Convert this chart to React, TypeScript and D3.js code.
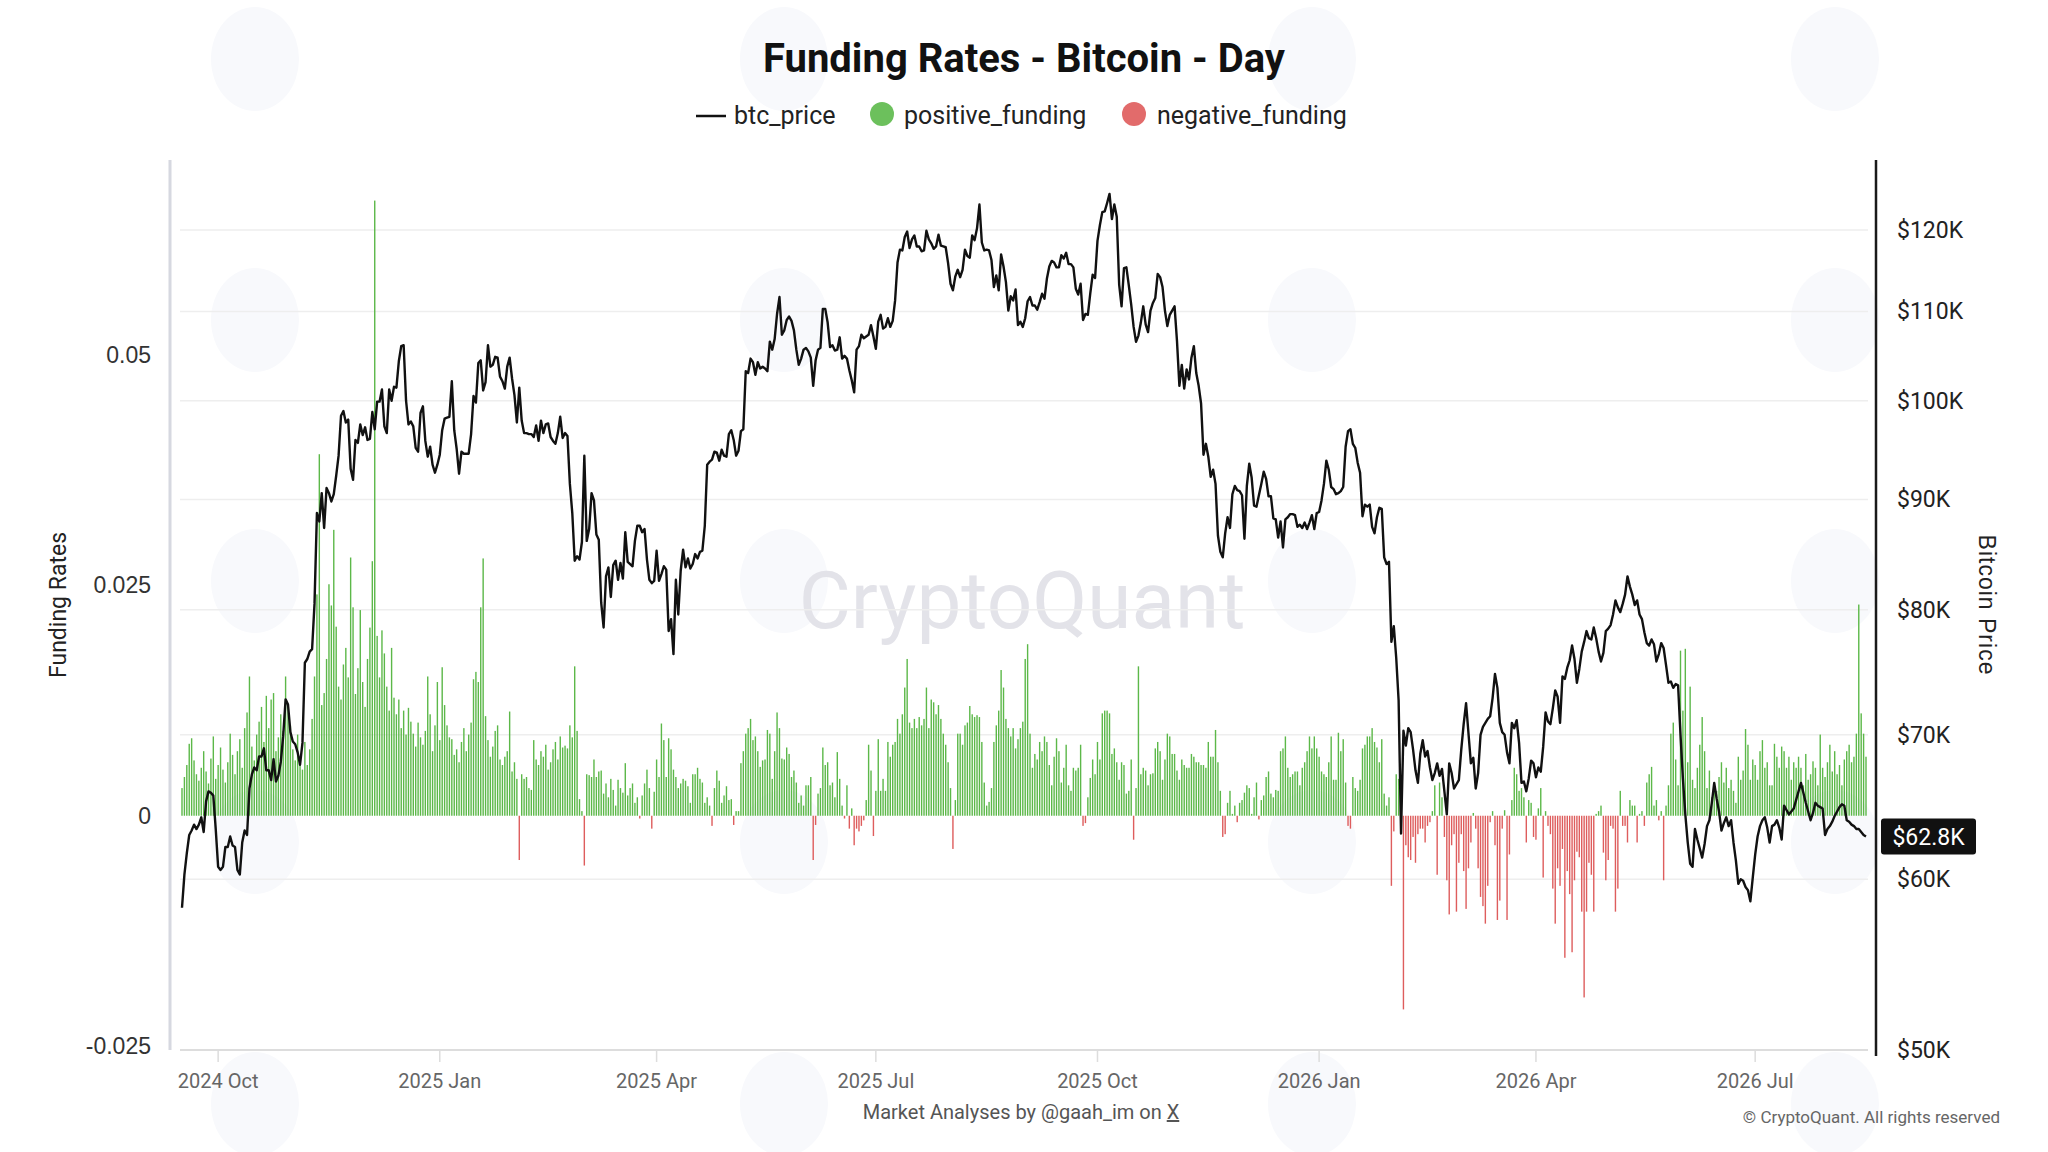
import React, { useEffect, useRef } from "react";
import * as d3 from "d3";

// daily series, first day 2024-09-16 (UTC)
const startDay = Date.UTC(2024, 8, 16);
const DAY = 86400000;

// btc_price, daily close in $K
const btcPrice2024 = [
  58.2, 60.3, 61.7, 62.9, 63.2, 63.6, 63.3, 63.6, 64.1, 63.1, 65.2, 65.9, 65.8, 65.6, 63.3,
  60.8, 60.6, 60.8, 62.1, 62.1, 62.8, 62.2, 62.1, 60.6, 60.3, 62.4, 63.2, 62.9, 66.1, 67.1, 67.6,
  67.4, 68.4, 68.4, 69.0, 67.4, 67.4, 66.7, 68.2, 66.6, 67.0, 68.0, 69.9, 72.7, 72.3, 70.2,
  69.5, 69.3, 68.7, 67.8, 69.4, 75.6, 75.9, 76.5, 76.7, 80.5, 88.7, 87.9, 90.6, 87.3, 91.1,
  90.6, 89.8, 90.5, 92.3, 94.3, 98.4, 98.9, 97.7, 98.0, 93.0, 91.9, 95.9, 95.6, 97.5, 96.4,
  97.2, 95.9, 96.0, 98.8, 97.0, 99.9, 99.9, 101.2, 97.3, 96.6, 101.2, 100.0, 101.5, 101.4, 104.3,
  106.0, 106.1, 100.0, 97.5, 97.8, 97.3, 95.1, 94.7, 98.7, 99.4, 95.8, 94.2, 95.2, 93.4, 92.6, 93.4,
];
const btcPrice2025 = [
  94.4, 96.9, 98.1, 98.2, 98.3, 102.1, 96.9, 95.0, 92.5, 94.7, 94.5, 94.5, 94.5, 96.5, 100.5, 99.8,
  104.1, 104.4, 101.1, 102.0, 106.1, 103.7, 103.9, 104.8, 104.7, 102.6, 102.1, 101.3, 103.7, 104.7, 102.4,
  100.6, 97.7, 101.4, 97.9, 96.6, 96.6, 96.5, 96.5, 96.2, 97.4, 95.8, 97.9, 96.6, 97.5, 97.6, 96.2,
  95.8, 95.5, 96.6, 98.3, 96.1, 96.6, 96.3, 91.5, 88.7, 84.3, 84.7, 84.4,
  86.0, 94.3, 86.1, 87.2, 90.6, 89.9, 86.7, 86.2, 80.6, 78.5, 82.9, 83.7, 81.1, 83.9, 84.3, 82.6,
  84.1, 82.7, 86.9, 84.2, 84.0, 83.8, 86.1, 87.5, 87.5, 86.9, 87.2, 84.4, 82.6, 82.3, 82.5,
  85.2, 82.5, 83.1, 83.8, 83.5, 78.2, 79.2, 76.3, 82.6, 79.6, 83.4, 85.3, 83.7, 84.5, 83.6,
  84.0, 84.9, 84.5, 85.1, 85.2, 87.5, 93.4, 93.7, 93.9, 94.7, 94.6, 93.8, 94.9, 94.3, 94.2,
  96.5, 96.9, 95.9, 94.3, 94.8, 96.8, 97.0, 103.2, 103.0, 104.6, 104.2, 102.8, 104.2, 103.5, 103.7,
  103.5, 103.2, 106.5, 105.6, 106.8, 109.7, 111.7, 107.3, 107.8, 109.0, 109.4, 108.9, 107.8, 105.6, 103.9, 104.6,
  105.6, 105.8, 105.4, 104.7, 101.6, 104.4, 105.6, 105.8, 110.3, 110.3, 108.7, 105.9, 106.1, 105.5, 105.6,
  107.0, 104.6, 104.9, 104.6, 103.3, 102.2, 100.9, 105.6, 106.0, 107.3, 106.9, 107.1, 107.3, 108.4, 107.1,
  105.7, 108.8, 109.6, 108.0, 108.2, 109.2, 108.2, 108.9, 111.3, 115.9, 117.5, 117.4, 119.1, 119.8, 117.7,
  118.8, 119.3, 117.9, 117.9, 117.3, 117.4, 119.9, 118.8, 118.3, 117.6, 117.9, 119.4, 118.0, 117.9, 117.8, 115.8,
  113.3, 112.5, 114.2, 115.0, 114.1, 115.0, 117.5, 116.7, 116.5, 119.3, 118.7, 120.2, 123.3, 118.4, 117.4,
  117.5, 117.4, 116.2, 112.9, 114.3, 112.5, 116.9, 115.4, 113.5, 110.1, 111.8, 111.3, 112.6, 108.4, 108.8, 108.2,
  109.2, 111.2, 111.7, 110.7, 110.7, 110.2, 111.1, 112.1, 111.5, 113.9, 115.4, 116.1, 115.9, 115.3, 115.3,
  116.8, 116.4, 117.1, 115.7, 115.7, 115.3, 112.7, 112.0, 113.3, 109.0, 109.7, 109.6, 112.1, 114.4, 114.0,
  118.6, 120.6, 122.3, 122.4, 123.5, 124.7, 121.4, 123.3, 121.7, 113.2, 110.6, 115.2, 115.3, 113.1, 110.8,
  108.2, 106.5, 107.2, 108.7, 110.6, 108.5, 107.6, 110.1, 111.0, 111.6, 114.5, 114.1, 112.9, 110.1, 108.3, 109.6,
  110.1, 110.6, 106.6, 101.6, 103.9, 101.3, 103.4, 102.3, 104.7, 106.0, 103.0, 101.6, 99.7, 94.4, 95.5,
  94.2, 92.2, 92.9, 91.5, 86.6, 85.1, 84.6, 86.8, 88.3, 87.3, 90.5, 91.3, 90.9, 90.8, 90.4,
  86.3, 91.3, 93.5, 92.1, 89.4, 89.3, 90.4, 91.5, 92.7, 92.0, 90.3, 90.3, 88.2, 88.1, 86.4, 87.9,
  85.5, 88.1, 88.3, 88.6, 88.6, 88.5, 87.4, 87.6, 87.3, 87.8, 87.2, 87.8, 88.5, 87.2, 88.7,
];
const btcPrice2026 = [
  88.8, 89.9, 91.5, 93.8, 92.9, 91.2, 91.0, 90.5, 90.6, 90.8, 91.2, 95.2, 96.8, 97.0, 95.5, 95.1,
  93.6, 92.6, 88.4, 89.5, 89.3, 89.5, 87.4, 86.8, 88.3, 89.2, 89.1, 84.6, 84.0, 84.2, 77.3,
  78.6, 76.0, 72.6, 63.0, 70.3, 69.2, 70.5, 70.2, 68.9, 67.4, 66.5, 68.6, 69.6, 68.4, 68.8,
  67.6, 66.7, 67.2, 67.9, 67.0, 67.5, 65.9, 64.3, 67.9, 67.2, 66.1, 66.4,
  66.7, 68.9, 70.8, 72.4, 70.1, 67.9, 68.3, 66.1, 67.2, 70.0, 70.6, 70.9, 71.2, 71.4, 72.8, 74.7,
  73.6, 70.9, 70.2, 70.0, 68.7, 67.9, 70.9, 70.5, 71.1, 69.4, 66.5, 66.6, 65.9, 66.8, 68.1,
  67.9, 66.9, 67.6, 67.3, 69.1, 71.7, 71.0, 70.8, 72.0, 73.4, 72.9, 70.9, 74.5, 74.3, 75.2,
  75.8, 77.0, 75.9, 74.0, 75.1, 76.5, 77.3, 78.2, 77.6, 77.5, 78.5, 77.6, 76.5, 75.7, 76.4,
  78.2, 78.4, 78.7, 79.6, 80.8, 80.2, 79.8, 80.5, 81.3, 82.9, 82.0, 81.3, 80.4, 80.8, 79.6, 79.2,
  78.1, 77.2, 77.0, 77.5, 77.1, 75.7, 76.3, 77.2, 76.8, 75.4, 74.0, 74.1, 73.6, 73.9, 73.8,
  70.0, 66.8, 64.3, 62.4, 61.0, 60.8, 63.3, 62.6, 62.0, 61.4, 62.3, 63.5, 63.9, 65.1, 66.5,
  65.4, 64.5, 63.2, 63.7, 64.1, 63.5, 63.9, 62.4, 61.2, 59.7, 60.0, 59.9, 59.5, 59.3, 58.6, 60.1,
  61.6, 62.8, 63.5, 63.9, 64.1, 63.4, 62.4, 63.5, 63.6, 63.9, 63.4, 62.6, 64.9, 64.6, 64.3,
  64.5, 64.7, 65.3, 65.9, 66.5, 65.8, 65.1, 64.5, 63.9, 64.4, 65.1, 64.9, 64.8, 64.7, 62.9, 63.3,
  63.5, 63.8, 64.2, 64.5, 64.8, 65.0, 64.9, 63.9, 63.8, 63.6, 63.5, 63.3, 63.3, 63.1, 62.9, 62.8,
];

// funding rate, daily, in units of 0.0001
const funding2024 = [
  30, 42, 55, 78, 84, 60, 45, 38, 52, 70, 48, 35, 62, 86, 40, 55, 74, 50, 36, 58,
  89, 66, 45, 70, 83, 52, 95, 112, 151, 75, 60, 88, 102, 118, 80, 130, 95, 126, 133, 70,
  85, 110, 92, 151, 120, 98, 72, 60, 88, 64, 50, 80, 55, 72, 105, 151, 240, 392, 120, 133,
  170, 251, 228, 310, 205, 140, 126, 164, 182, 150, 280, 226, 132, 160, 223, 145, 118, 170, 204, 276,
  667, 195, 150, 201, 176, 140, 114, 182, 128, 110, 126, 95, 114, 88, 117, 102, 89, 75, 101, 85,
  77, 92, 151, 110, 70, 98, 145,
];
const funding2025 = [
  82, 161, 120,
  98, 85, 83, 66, 72, 58, 80, 95, 70, 88, 101, 148, 156, 145, 226, 279, 108, 82, 64, 75,
  92, 98, 61, 55, 64, 70, 113, 48, 58, 40, -48, 45, 40, 42, 30, 28, 82, 61, 55, 70,
  64, 77, 50, 58, 72, 80, 61, 86, 74, 76, 73, 98, 85, 162, 92, 18, 5, -54, 45, 44,
  42, 61, 42, 48, 49, 24, 35, 20, 40, 28, 11, 39, 30, 25, 57, 22, 30, 35, 14, 20,
  -3, 22, 35, 50, 30, -14, 26, 61, 42, 100, 82, 42, 84, 72, 50, 42, 30, 35, 40, 38,
  32, 14, 45, 45, 52, 40, 36, 14, 20, 11, -11, 30, 49, 38, 14, 22, 32, 17, 18, -10,
  5, 5, 57, 70, 89, 95, 105, 82, 86, 70, 53, 60, 61, 93, 89, 40, 70, 112, 95, 62,
  61, 74, 67, 42, 49, 36, 14, 22, 11, 33, 33, 42, -48, -10, 24, 30, 74, 55, 58, 33,
  36, 20, 69, 40, 11, -3, 33, -14, 8, -32, -14, -17, -11, -5, 17, 77, 49, -22, 27, 83,
  27, 40, 27, 80, 64, 77, 80, 105, 89, 110, 139, 170, 101, 95, 105, 95, 107, 98, 105, 139,
  95, 126, 123, 110, 120, 105, 89, 77, 58, 30, -36, 17, 89, 89, 77, 98, 101, 119, 110, 107,
  109, 107, 80, 36, 11, 15, 30, 80, 98, 114, 158, 139, 105, 95, 86, 95, 73, 83, 95, 102,
  170, 186, 89, 52, 67, 61, 80, 70, 86, 80, 55, 33, 64, 84, 70, 36, 52, 77, 33, 27,
  52, 49, 52, 77, -11, -8, 20, 41, 61, 45, 80, 61, 111, 114, 114, 111, 67, 73, 58, 39,
  58, 55, 24, 27, 61, -26, 30, 162, 45, 52, 49, 33, 45, 46, 73, 80, 70, 39, 61, 89,
  86, 67, 67, 49, 39, 61, 55, 52, 52, 67, 64, 58, 58, 55, 55, 52, 80, 64, 64, 93,
  58, 27, -23, -20, 14, 27, 2, 11, -7, 14, 17, 25, 33, 30, 2, 20, 36, -4, 17, 22,
  42, 48, 24, 20, 28, 27, 70, 73, 86, 52, 42, 45, 48, 48, 33, 52, 58, 70, 86, 73,
  86, 73,
];
const funding2026 = [
  64, 48, 45, 42, 58, 86, 39, 39,
  90, 70, 83, 36, -11, -14, 42, 30, 27, 39, 73, 77, 86, 86, 95, 80, 74, 58, 83, 24,
  11, 20, -76, -17, 45, 40, 20, -210, -32, -45, -48, -23, -51, -20, -14, -14, -29, -11, -7, 5,
  33, -64, 36, 20, -23, -70, -107, -32, -20, -104, -51, -20, -60, -101, -57, -29, 3, -14, -57, -88,
  -98, -117, -76, -7, 5, -32, -113, -92, -14, 6, -113, -42, 17, 52, 45, 27, 30, 20, -29, 17,
  14, -23, -26, 8, 30, -67, 5, -11, -20, -79, -117, -57, -76, -36, -154, -60, -85, -148, -70, -39,
  -45, -104, -197, -104, -51, -64, -104, 2, 5, 11, -40, -70, -48, -11, -14, -104, -79, 27, -11, -11,
  -29, 17, 11, 11, -29, 2, 5, -11, 36, 45, 53, 11, 17, -5, 5, -70, 11, 33, 89, 101,
  61, 33, 179, 114, 181, 58, 140, 39, 30, 52, 77, 107, 70, 30, 49, 20, 30, 27, 42, 58,
  36, 52, 30, 39, 27, 14, 64, 39, 49, 94, 77, 39, 61, 55, 39, 70, 82, 52, 58, 33,
  33, 78, 64, 52, 75, 70, 52, 64, 39, 58, 52, 64, 52, 33, 67, 39, 45, 59, 52, 33,
  88, 52, 42, 58, 77, 48, 70, 45, 55, 33, 61, 70, 77, 58, 64, 89, 229, 111, 89, 64,
];

const priceTicks = [50, 60, 70, 80, 90, 100, 110, 120];
const fundingTicks = [-0.025, 0, 0.025, 0.05];
const lastPriceLabel = "$62.8K";

const W = 2048;
const H = 1152;

export default function App() {
  const svgRef = useRef<SVGSVGElement>(null);

  useEffect(() => {
    if (!svgRef.current) return;
    const svg = d3.select(svgRef.current);
    svg.selectAll("*").remove();

    const prices = [...btcPrice2024, ...btcPrice2025, ...btcPrice2026];
    const funding = [...funding2024, ...funding2025, ...funding2026];
    const n = Math.min(prices.length, funding.length);
    const data = d3.range(n).map((i) => ({
      date: new Date(startDay + i * DAY),
      price: prices[i],
      rate: funding[i] / 10000,
    }));

    const plot = { left: 180, right: 1868, top: 160, bottom: 1050 };

    const x = d3
      .scaleUtc()
      .domain([data[0].date, data[n - 1].date])
      .range([182, 1866]);
    const yRate = d3.scaleLinear().domain([-0.0254, 0.0711]).range([plot.bottom, plot.top]);
    const yPrice = d3.scaleLog().domain([50, 129.3]).range([plot.bottom, plot.top]);

    svg.append("rect").attr("width", W).attr("height", H).attr("fill", "#ffffff");

    // faint tiled logo watermarks
    const wmX = [255, 784, 1312, 1835];
    const wmY = [59, 320, 581, 842, 1104];
    wmX.forEach((cx) =>
      wmY.forEach((cy) => {
        svg
          .append("ellipse")
          .attr("cx", cx)
          .attr("cy", cy)
          .attr("rx", 44)
          .attr("ry", 52)
          .attr("fill", "#f8f9fc");
      }),
    );

    svg
      .append("text")
      .attr("x", 1022)
      .attr("y", 628)
      .attr("text-anchor", "middle")
      .style("font-family", "Roboto, sans-serif")
      .style("font-size", "80px")
      .style("font-weight", 400)
      .style("fill", "#e3e3e9")
      .text("CryptoQuant");

    // price grid
    svg
      .append("g")
      .selectAll("line")
      .data(priceTicks.slice(1))
      .enter()
      .append("line")
      .attr("x1", plot.left)
      .attr("x2", plot.right)
      .attr("y1", (d) => yPrice(d))
      .attr("y2", (d) => yPrice(d))
      .attr("stroke", "#eeeeee")
      .attr("stroke-width", 1.5);

    // funding bars
    const zero = yRate(0);
    svg
      .append("g")
      .selectAll("rect")
      .data(data)
      .enter()
      .append("rect")
      .attr("x", (d) => x(d.date) - 0.7)
      .attr("width", 1.4)
      .attr("y", (d) => Math.min(yRate(d.rate), zero))
      .attr("height", (d) => Math.abs(yRate(d.rate) - zero))
      .attr("fill", (d) => (d.rate >= 0 ? "#5cb849" : "#de5d5d"));

    // btc price line
    const line = d3
      .line<{ date: Date; price: number }>()
      .x((d) => x(d.date))
      .y((d) => yPrice(d.price));
    svg
      .append("path")
      .datum(data)
      .attr("fill", "none")
      .attr("stroke", "#111111")
      .attr("stroke-width", 2.4)
      .attr("stroke-linejoin", "round")
      .attr("d", line);

    // axes lines
    svg
      .append("line")
      .attr("x1", 170)
      .attr("x2", 170)
      .attr("y1", plot.top)
      .attr("y2", plot.bottom)
      .attr("stroke", "#d6d8e0")
      .attr("stroke-width", 3);
    svg
      .append("line")
      .attr("x1", 1876)
      .attr("x2", 1876)
      .attr("y1", plot.top)
      .attr("y2", plot.bottom + 6)
      .attr("stroke", "#1a1a1a")
      .attr("stroke-width", 2.5);
    svg
      .append("line")
      .attr("x1", plot.left)
      .attr("x2", plot.right)
      .attr("y1", plot.bottom)
      .attr("y2", plot.bottom)
      .attr("stroke", "#dddddd")
      .attr("stroke-width", 2);

    // x ticks
    const xTicks = x.ticks(d3.utcMonth.every(3) as d3.TimeInterval);
    const fmt = d3.utcFormat("%Y %b");
    const xg = svg.append("g");
    xTicks.forEach((t) => {
      xg.append("line")
        .attr("x1", x(t))
        .attr("x2", x(t))
        .attr("y1", plot.bottom)
        .attr("y2", plot.bottom + 12)
        .attr("stroke", "#dddddd")
        .attr("stroke-width", 1.5);
      xg.append("text")
        .attr("x", x(t))
        .attr("y", 1088)
        .attr("text-anchor", "middle")
        .style("font-family", "Roboto, sans-serif")
        .style("font-size", "20px")
        .style("fill", "#666666")
        .text(fmt(t));
    });

    // left ticks
    svg
      .append("g")
      .selectAll("text")
      .data(fundingTicks)
      .enter()
      .append("text")
      .attr("x", 151)
      .attr("y", (d) => yRate(d))
      .attr("dy", "0.35em")
      .attr("text-anchor", "end")
      .style("font-family", "'Liberation Sans', Arial, sans-serif")
      .style("font-size", "23px")
      .style("fill", "#333333")
      .text((d) => (d === 0 ? "0" : String(d)));

    // right ticks
    svg
      .append("g")
      .selectAll("text")
      .data(priceTicks)
      .enter()
      .append("text")
      .attr("x", 1897)
      .attr("y", (d) => yPrice(d))
      .attr("dy", "0.35em")
      .style("font-family", "Roboto, sans-serif")
      .style("font-size", "23px")
      .style("fill", "#222222")
      .text((d) => `$${d}K`);

    // last price marker
    const lastY = yPrice(data[n - 1].price);
    svg
      .append("rect")
      .attr("x", 1881)
      .attr("y", lastY - 18)
      .attr("width", 95)
      .attr("height", 36)
      .attr("rx", 3)
      .attr("fill", "#111111");
    svg
      .append("text")
      .attr("x", 1928.5)
      .attr("y", lastY)
      .attr("dy", "0.35em")
      .attr("text-anchor", "middle")
      .style("font-family", "Roboto, sans-serif")
      .style("font-size", "23px")
      .style("fill", "#ffffff")
      .text(lastPriceLabel);

    // axis titles
    svg
      .append("text")
      .attr("transform", `translate(66,${(plot.top + plot.bottom) / 2}) rotate(-90)`)
      .attr("text-anchor", "middle")
      .style("font-family", "Roboto, sans-serif")
      .style("font-size", "23px")
      .style("fill", "#222222")
      .text("Funding Rates");
    svg
      .append("text")
      .attr("transform", `translate(1979,${(plot.top + plot.bottom) / 2}) rotate(90)`)
      .attr("text-anchor", "middle")
      .style("font-family", "'Liberation Sans', Arial, sans-serif")
      .style("font-size", "23px")
      .style("letter-spacing", "1px")
      .style("fill", "#222222")
      .text("Bitcoin Price");

    // title
    svg
      .append("text")
      .attr("x", 1024)
      .attr("y", 72)
      .attr("text-anchor", "middle")
      .style("font-family", "Roboto, sans-serif")
      .style("font-size", "40px")
      .style("font-weight", 700)
      .style("fill", "#111111")
      .text("Funding Rates - Bitcoin - Day");

    // legend
    const lg = svg.append("g").style("font-family", "Roboto, sans-serif").style("font-size", "25px");
    lg.append("line")
      .attr("x1", 696)
      .attr("x2", 726)
      .attr("y1", 116)
      .attr("y2", 116)
      .attr("stroke", "#111111")
      .attr("stroke-width", 2.5);
    lg.append("text").attr("x", 734).attr("y", 124).style("fill", "#222222").text("btc_price");
    lg.append("circle").attr("cx", 882).attr("cy", 114).attr("r", 12).attr("fill", "#6cc05c");
    lg.append("text").attr("x", 904).attr("y", 124).style("fill", "#222222").text("positive_funding");
    lg.append("circle").attr("cx", 1134).attr("cy", 114).attr("r", 12).attr("fill", "#e26b6b");
    lg.append("text").attr("x", 1157).attr("y", 124).style("fill", "#222222").text("negative_funding");

    // footer
    const foot = svg
      .append("text")
      .attr("x", 1021)
      .attr("y", 1119)
      .attr("text-anchor", "middle")
      .style("font-family", "Roboto, sans-serif")
      .style("font-size", "20px")
      .style("fill", "#555555");
    foot.append("tspan").text("Market Analyses by @gaah_im on ");
    foot.append("tspan").style("text-decoration", "underline").text("X");

    svg
      .append("text")
      .attr("x", 2000)
      .attr("y", 1123)
      .attr("text-anchor", "end")
      .style("font-family", "Roboto, sans-serif")
      .style("font-size", "17px")
      .style("fill", "#666666")
      .text("© CryptoQuant. All rights reserved");
  }, []);

  return (
    <div style={{ position: "fixed", left: 0, top: 0, width: W, height: H, background: "#fff" }}>
      <svg ref={svgRef} width={W} height={H} />
    </div>
  );
}
